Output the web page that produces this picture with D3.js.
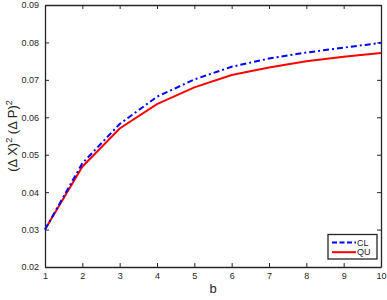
<!DOCTYPE html>
<meta charset="utf-8">
<script src="https://d3js.org/d3.v7.min.js"></script>
<style>
  body { margin: 0; background: #fff; }
  svg { display: block; font-family: "Liberation Sans", Arial, sans-serif; }
  .tick text { fill: #262626; font-size: 9px; }
</style>
<body>
<svg id="chart" width="387" height="300"></svg>
<script>
  // data
  var bValues = [1, 2, 3, 4, 5, 6, 7, 8, 9, 10];
  var clValues = [0.0300, 0.0477, 0.0582, 0.0655, 0.0701, 0.0735, 0.0757, 0.0773, 0.0786, 0.0799];
  var quValues = [0.0300, 0.0468, 0.0570, 0.0635, 0.0680, 0.0713, 0.0733, 0.0750, 0.0762, 0.0772];
  var yTicks = [0.02, 0.03, 0.04, 0.05, 0.06, 0.07, 0.08, 0.09];
  var seriesNames = ["CL", "QU"];

  var svg = d3.select("#chart");
  var plotLeft = 45, plotRight = 381, plotTop = 5, plotBottom = 267;

  var x = d3.scaleLinear().domain([1, 10]).range([plotLeft, plotRight]);
  var y = d3.scaleLinear().domain([0.02, 0.09]).range([plotBottom, plotTop]);

  var axisColor = "#262626";

  // axes with inward ticks on all four sides
  var gx = svg.append("g").attr("transform", "translate(0," + plotBottom + ")")
    .call(d3.axisBottom(x).tickValues(bValues).tickSizeInner(-4).tickSizeOuter(0).tickPadding(6).tickFormat(d3.format("d")));
  var gy = svg.append("g").attr("transform", "translate(" + plotLeft + ",0)")
    .call(d3.axisLeft(y).tickValues(yTicks).tickSizeInner(-4).tickSizeOuter(0).tickPadding(6).tickFormat(d3.format(".2f")));
  var gt = svg.append("g").attr("transform", "translate(0," + plotTop + ")")
    .call(d3.axisTop(x).tickValues(bValues).tickSizeInner(-4).tickSizeOuter(0).tickFormat(""));
  var gr = svg.append("g").attr("transform", "translate(" + plotRight + ",0)")
    .call(d3.axisRight(y).tickValues(yTicks).tickSizeInner(-4).tickSizeOuter(0).tickFormat(""));

  [gx, gy, gt, gr].forEach(function (g) {
    g.select(".domain").attr("stroke", axisColor).attr("stroke-width", 1.3);
    g.selectAll(".tick line").attr("stroke", axisColor).attr("stroke-width", 1);
    g.selectAll(".tick text").attr("font-family", null).attr("font-size", null);
  });

  var line = d3.line().x(function (d, i) { return x(bValues[i]); }).y(function (d) { return y(d); });

  svg.append("path").datum(quValues)
    .attr("d", line).attr("fill", "none")
    .attr("stroke", "#ff0000").attr("stroke-width", 2);

  svg.append("path").datum(clValues)
    .attr("d", line).attr("fill", "none")
    .attr("stroke", "#0000ff").attr("stroke-width", 2)
    .attr("stroke-dasharray", "6,3,2,3");

  // labels
  svg.append("text")
    .attr("x", (plotLeft + plotRight) / 2).attr("y", 293)
    .attr("text-anchor", "middle").attr("font-size", 13).attr("fill", axisColor)
    .text("b");

  var yl = svg.append("text")
    .attr("transform", "translate(17," + ((plotTop + plotBottom) / 2) + ") rotate(-90)")
    .attr("text-anchor", "middle").attr("font-size", 13).attr("fill", axisColor);
  yl.append("tspan").text("(Δ X)");
  yl.append("tspan").attr("dy", -5).attr("font-size", 9).text("2");
  yl.append("tspan").attr("dy", 5).text(" (Δ P)");
  yl.append("tspan").attr("dy", -5).attr("font-size", 9).text("2");

  // legend
  var lg = svg.append("g");
  lg.append("rect").attr("x", 328).attr("y", 234.5).attr("width", 49).attr("height", 24.5)
    .attr("fill", "#fff").attr("stroke", axisColor).attr("stroke-width", 1.3);
  var legendColors = ["#0000ff", "#ff0000"];
  var legendDash = ["5,2.5", null];
  seriesNames.forEach(function (name, i) {
    var ly = 242.5 + i * 9.7;
    lg.append("line").attr("x1", 332).attr("x2", 356).attr("y1", ly).attr("y2", ly)
      .attr("stroke", legendColors[i]).attr("stroke-width", 2)
      .attr("stroke-dasharray", legendDash[i]);
    lg.append("text").attr("x", 357).attr("y", ly + 3).attr("font-size", 9)
      .attr("fill", axisColor).text(name);
  });
</script>
</body>
